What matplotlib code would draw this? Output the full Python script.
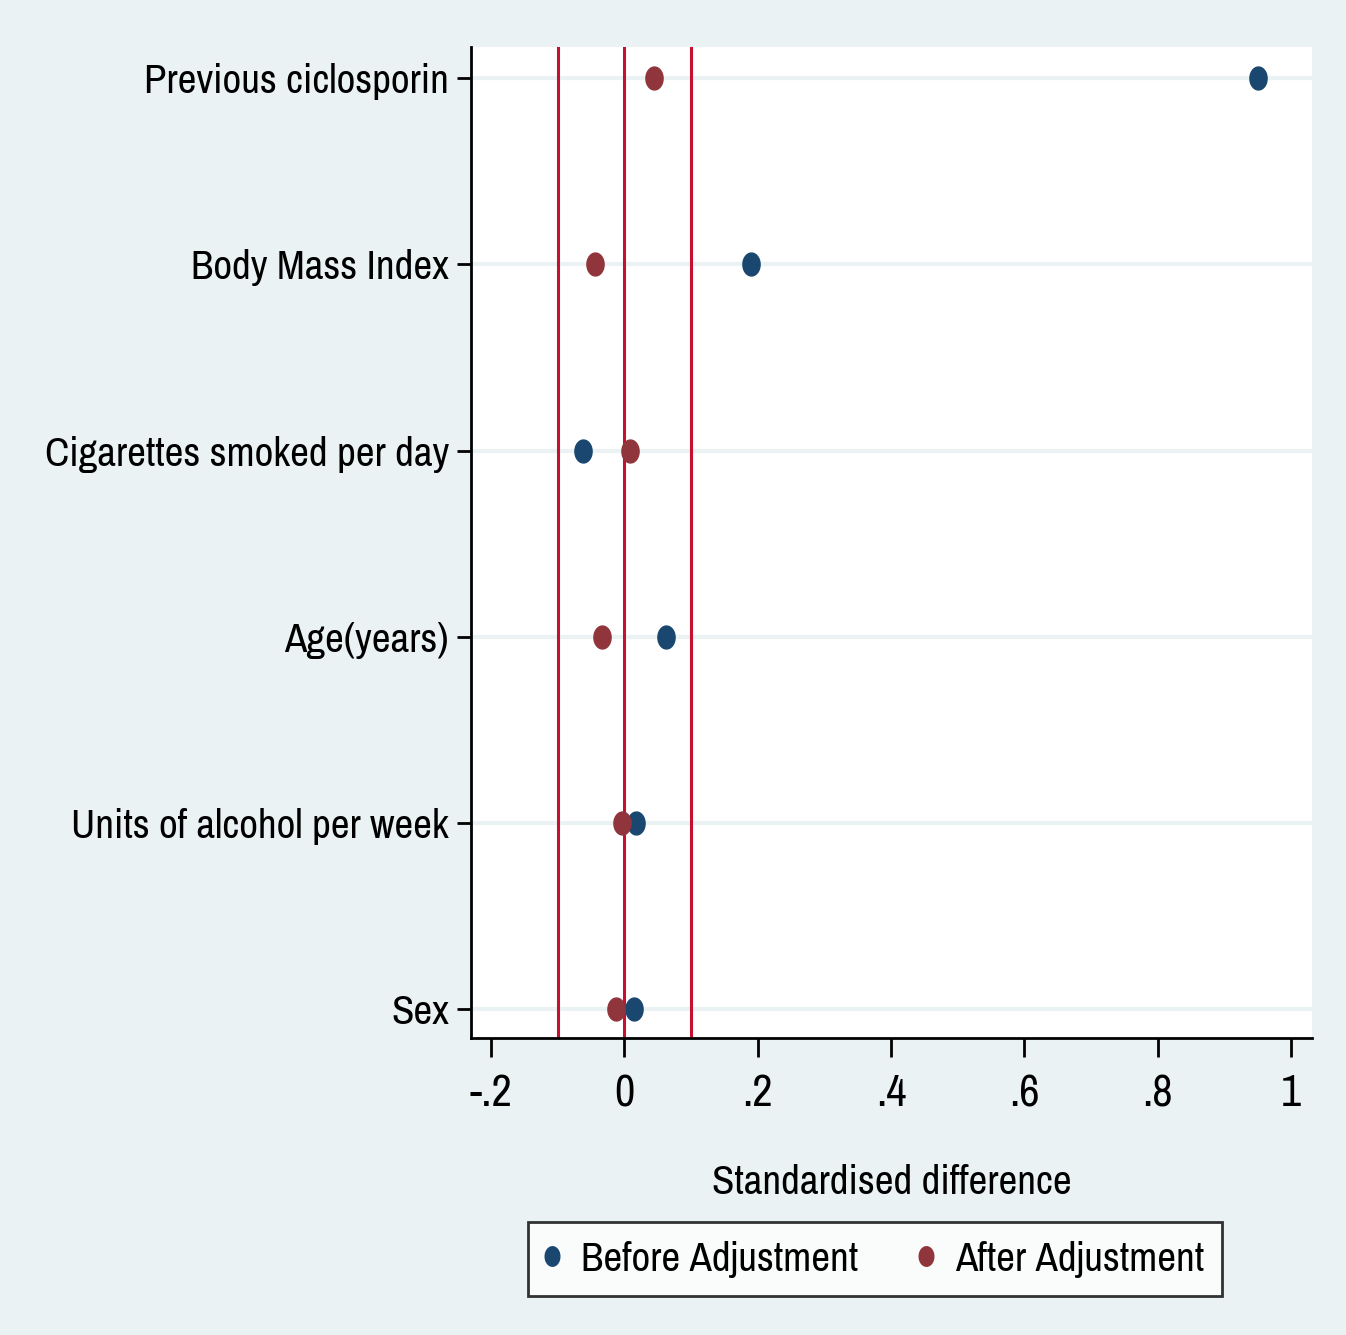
import numpy as np
import matplotlib
matplotlib.use("Agg")
import matplotlib.pyplot as plt
from matplotlib.path import Path

plt.rcParams["font.family"] = ["Archivo Narrow", "Roboto Condensed", "DejaVu Sans"]

variables = [
    "Previous ciclosporin",
    "Body Mass Index",
    "Cigarettes smoked per day",
    "Age(years)",
    "Units of alcohol per week",
    "Sex",
]
before_adj = [0.950, 0.190, -0.062, 0.063, 0.017, 0.014]
after_adj = [0.044, -0.044, 0.008, -0.033, -0.003, -0.012]
ref_lines = [-0.1, 0.0, 0.1]
x_ticks = [-0.2, 0, 0.2, 0.4, 0.6, 0.8, 1.0]
x_ticklabels = ["-.2", "0", ".2", ".4", ".6", ".8", "1"]

bg = "#EAF2F3"
navy = "#1A476F"
maroon = "#90353B"
red = "#C8102E"

# Stata markers come out slightly tall in this picture
t = np.linspace(0, 2 * np.pi, 60)
ellipse = Path(np.column_stack([0.75 * np.cos(t), np.sin(t)]), closed=True)

fig = plt.figure(figsize=(13.46, 13.35), dpi=100, facecolor=bg)
ax = fig.add_axes([471 / 1346, 1 - 1038 / 1335, (1312 - 471) / 1346, (1038 - 47) / 1335])
ax.set_facecolor("white")

ypos = np.arange(len(variables), 0, -1)

for y in ypos:
    ax.axhline(y, color=bg, linewidth=3, zorder=1)
for x in ref_lines:
    ax.axvline(x, color=red, linewidth=2.2, zorder=2)

ax.plot(before_adj, ypos, linestyle="none", marker=ellipse, markersize=16.5,
        color=navy, label="Before Adjustment", zorder=3)
ax.plot(after_adj, ypos, linestyle="none", marker=ellipse, markersize=16.5,
        color=maroon, label="After Adjustment", zorder=3)

ax.set_xlim(-0.230, 1.0315)
ax.set_ylim(0.845, 6.167)
ax.set_yticks(ypos)
ax.set_yticklabels(variables, fontsize=29.5)
ax.set_xticks(x_ticks)
ax.set_xticklabels(x_ticklabels, fontsize=32)
ax.tick_params(axis="y", length=10, width=2, pad=6)
ax.tick_params(axis="x", length=14, width=2, pad=12)

for s in ["top", "right"]:
    ax.spines[s].set_visible(False)
for s in ["left", "bottom"]:
    ax.spines[s].set_linewidth(2)

ax.set_xlabel("Standardised difference", fontsize=29.5, labelpad=36)

leg = fig.legend(loc="center", bbox_to_anchor=(875 / 1346, 1 - 1259 / 1335), ncol=2,
                 fontsize=29.5, frameon=True, fancybox=False, edgecolor="black",
                 handletextpad=0.55, columnspacing=1.5, handlelength=0.3,
                 markerscale=0.85, borderpad=0.45)
leg.get_frame().set_linewidth(2)

fig.savefig("out.png", dpi=100, facecolor=bg)
